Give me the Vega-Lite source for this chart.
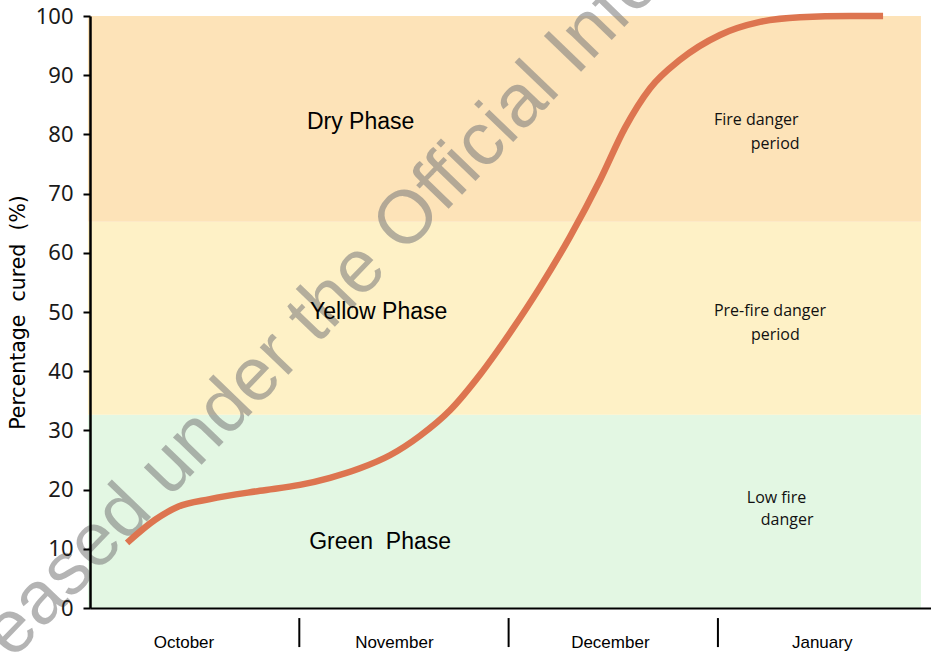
{
  "$schema": "https://vega.github.io/schema/vega-lite/v6.json",
  "width": 841,
  "height": 592,
  "autosize": {"type": "none"},
  "padding": {"left": 90, "top": 16, "right": 0, "bottom": 46},
  "background": "white",
  "config": {
    "view": {"stroke": null},
    "axisX": {"domain": true, "domainColor": "#000000", "domainWidth": 2, "ticks": false, "labels": false, "grid": false, "title": null},
    "axisY": {"grid": false, "domainColor": "#000000", "domainWidth": 2.5, "tickColor": "#000000", "tickWidth": 2, "tickSize": 7,
      "labelPadding": 10, "labelFont": "Noto Sans", "labelFontSize": 22, "labelColor": "#1a1a1a",
      "titleFont": "DejaVu Sans", "titleFontSize": 20.5, "titleFontWeight": "normal", "titleColor": "#000000", "titlePadding": 7}
  },
  "datasets": {
    "bands": [
      {"phase": "Green", "lo": 0, "hi": 32.66},
      {"phase": "Yellow", "lo": 32.66, "hi": 65.25},
      {"phase": "Dry", "lo": 65.25, "hi": 100}
    ],
    "curve": [
      {"t": 0.177, "pct": 11.0},
      {"t": 0.311, "pct": 14.9},
      {"t": 0.420, "pct": 17.1},
      {"t": 0.573, "pct": 18.4},
      {"t": 0.812, "pct": 19.8},
      {"t": 1.003, "pct": 20.8},
      {"t": 1.147, "pct": 22.0},
      {"t": 1.290, "pct": 23.6},
      {"t": 1.433, "pct": 25.8},
      {"t": 1.577, "pct": 29.1},
      {"t": 1.720, "pct": 33.4},
      {"t": 1.863, "pct": 39.4},
      {"t": 2.007, "pct": 46.5},
      {"t": 2.150, "pct": 54.2},
      {"t": 2.293, "pct": 62.7},
      {"t": 2.437, "pct": 72.3},
      {"t": 2.556, "pct": 81.1},
      {"t": 2.676, "pct": 87.8},
      {"t": 2.819, "pct": 92.6},
      {"t": 3.010, "pct": 96.8},
      {"t": 3.201, "pct": 99.0},
      {"t": 3.392, "pct": 99.8},
      {"t": 3.631, "pct": 100},
      {"t": 3.789, "pct": 100}
    ],
    "phaseLabels": [
      {"label": "Dry Phase", "t": 1.293, "pct": 80.9},
      {"label": "Yellow Phase", "t": 1.379, "pct": 48.9},
      {"label": "Green\u00a0 Phase", "t": 1.386, "pct": 9.97}
    ],
    "notes": [
      {"label": "Fire danger", "t": 2.981, "pct": 81.6},
      {"label": "period", "t": 3.157, "pct": 77.5},
      {"label": "Pre-fire danger", "t": 2.981, "pct": 49.3},
      {"label": "period", "t": 3.158, "pct": 45.3},
      {"label": "Low fire", "t": 3.138, "pct": 17.7},
      {"label": "danger", "t": 3.205, "pct": 14.0}
    ],
    "months": [
      {"month": "October", "t": 0.449},
      {"month": "November", "t": 1.454},
      {"month": "December", "t": 2.486},
      {"month": "January", "t": 3.498}
    ],
    "separators": [{"t": 1}, {"t": 2}, {"t": 3}],
    "watermark": [
      {"text": "Released under the Official Information Act", "t": 1.62, "pct": 64.0}
    ]
  },
  "layer": [
    {
      "data": {"name": "bands"},
      "mark": {"type": "rect"},
      "encoding": {
        "x": {"datum": -0.01, "type": "quantitative",
          "scale": {"domain": [0, 4.018], "nice": false, "zero": false},
          "axis": {"title": null, "zindex": 2}},
        "x2": {"datum": 3.97},
        "y": {"field": "lo", "type": "quantitative",
          "scale": {"domain": [0, 100], "nice": false, "zero": false},
          "axis": {"values": [0, 10, 20, 30, 40, 50, 60, 70, 80, 90, 100], "title": "Percentage\u00a0 cured\u00a0 (%)", "zindex": 2}},
        "y2": {"field": "hi"},
        "color": {"field": "phase", "type": "nominal", "legend": null,
          "scale": {"domain": ["Green", "Yellow", "Dry"], "range": ["#E3F7E3", "#FEF1C6", "#FDE3B8"]}}
      }
    },
    {
      "data": {"name": "watermark"},
      "mark": {"type": "text", "font": "Liberation Sans", "fontSize": 75, "angle": -46, "align": "center", "baseline": "alphabetic", "color": "#7f7f7f", "opacity": 0.58},
      "encoding": {
        "x": {"field": "t", "type": "quantitative", "scale": {"domain": [0, 4.018], "nice": false, "zero": false}},
        "y": {"field": "pct", "type": "quantitative", "scale": {"domain": [0, 100], "nice": false, "zero": false}},
        "text": {"field": "text"}
      }
    },
    {
      "data": {"name": "curve"},
      "mark": {"type": "line", "interpolate": "monotone", "color": "#DD7550", "strokeWidth": 6.5, "strokeCap": "butt"},
      "encoding": {
        "x": {"field": "t", "type": "quantitative", "scale": {"domain": [0, 4.018], "nice": false, "zero": false}},
        "y": {"field": "pct", "type": "quantitative", "scale": {"domain": [0, 100], "nice": false, "zero": false}}
      }
    },
    {
      "data": {"name": "phaseLabels"},
      "mark": {"type": "text", "font": "Liberation Sans", "fontSize": 23, "align": "center", "baseline": "alphabetic", "color": "#000000"},
      "encoding": {
        "x": {"field": "t", "type": "quantitative", "scale": {"domain": [0, 4.018], "nice": false, "zero": false}},
        "y": {"field": "pct", "type": "quantitative", "scale": {"domain": [0, 100], "nice": false, "zero": false}},
        "text": {"field": "label"}
      }
    },
    {
      "data": {"name": "notes"},
      "mark": {"type": "text", "font": "Open Sans", "fontSize": 16, "align": "left", "baseline": "alphabetic", "color": "#111111"},
      "encoding": {
        "x": {"field": "t", "type": "quantitative", "scale": {"domain": [0, 4.018], "nice": false, "zero": false}},
        "y": {"field": "pct", "type": "quantitative", "scale": {"domain": [0, 100], "nice": false, "zero": false}},
        "text": {"field": "label"}
      }
    },
    {
      "data": {"name": "separators"},
      "mark": {"type": "rule", "color": "#000000", "strokeWidth": 2},
      "encoding": {
        "x": {"field": "t", "type": "quantitative", "scale": {"domain": [0, 4.018], "nice": false, "zero": false}},
        "y": {"datum": -1.7, "type": "quantitative", "scale": {"domain": [0, 100], "nice": false, "zero": false}},
        "y2": {"datum": -6.6}
      }
    },
    {
      "data": {"name": "months"},
      "mark": {"type": "text", "font": "Liberation Sans", "fontSize": 17, "align": "center", "baseline": "middle", "color": "#000000"},
      "encoding": {
        "x": {"field": "t", "type": "quantitative", "scale": {"domain": [0, 4.018], "nice": false, "zero": false}},
        "y": {"datum": -5.9, "type": "quantitative", "scale": {"domain": [0, 100], "nice": false, "zero": false}},
        "text": {"field": "month"}
      }
    }
  ]
}
